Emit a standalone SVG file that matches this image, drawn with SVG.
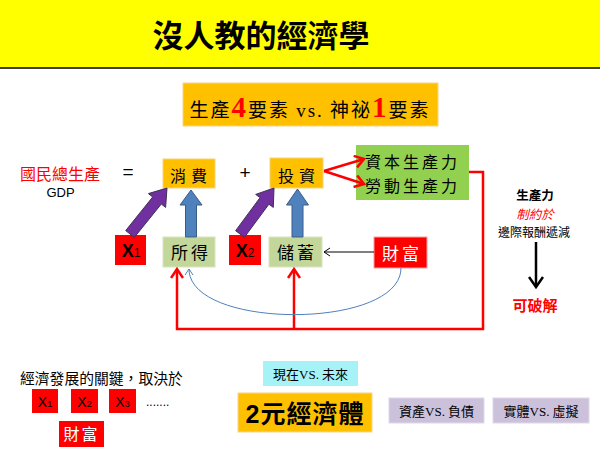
<svg xmlns="http://www.w3.org/2000/svg" width="600" height="449" viewBox="0 0 600 449">
<style>
.cjk{font-family:"Noto Sans CJK TC","Noto Sans CJK SC",sans-serif;}
.lat{font-family:"Liberation Sans",Arial,sans-serif;}
.orange{fill:#FFC000;stroke:#F7D27A;stroke-width:1;}
.olive{fill:#C4D79B;stroke:#D7E4BD;stroke-width:1;}
.redbox{fill:#FF0000;stroke:#F5A0A0;stroke-width:1;}
.lav{fill:#CCC1DA;stroke:#E0D8EA;stroke-width:1;}
.mid{text-anchor:middle;}
</style>
<defs>
<marker id="redHead" markerUnits="userSpaceOnUse" markerWidth="14" markerHeight="14" refX="10" refY="7" orient="auto">
<path d="M1,1 L10,7 L1,13" fill="none" stroke="#FF0000" stroke-width="2.5"/>
</marker>
<marker id="blackSmall" markerUnits="userSpaceOnUse" markerWidth="10" markerHeight="10" refX="8" refY="5" orient="auto">
<path d="M2,1 L8,5 L2,9" fill="none" stroke="#000" stroke-width="1"/>
</marker>
<marker id="blueSmall" markerUnits="userSpaceOnUse" markerWidth="10" markerHeight="10" refX="8" refY="5" orient="auto">
<path d="M2,1 L8,5 L2,9" fill="none" stroke="#4F81BD" stroke-width="1"/>
</marker>
<marker id="blackHead" markerUnits="userSpaceOnUse" markerWidth="16" markerHeight="16" refX="12" refY="8" orient="auto">
<path d="M2,1 L12,8 L2,15" fill="none" stroke="#000" stroke-width="2.5"/>
</marker>
</defs>

<g id="title">
<rect x="0" y="0" width="600" height="67" fill="#FFFF00"/>
<line x1="0" y1="68" x2="600" y2="68" stroke="#000" stroke-width="1.5"/>
<text x="261" y="47" class="cjk mid" font-size="31" font-weight="bold" fill="#000">沒人教的經濟學</text>
</g>

<g id="subtitle">
<rect x="183" y="83" width="255" height="43" fill="#FFC000" stroke="#F9D48A" stroke-width="1"/>
<text x="310" y="117" class="cjk mid" font-size="19" letter-spacing="2" fill="#000">生產<tspan fill="#FF0000" font-family="Liberation Serif" font-weight="bold" font-size="29">4</tspan>要素 <tspan font-family="Liberation Serif">vs.</tspan> 神祕<tspan fill="#FF0000" font-family="Liberation Serif" font-weight="bold" font-size="29">1</tspan>要素</text>
</g>

<g id="gdp">
<text x="60" y="180" class="cjk mid" font-size="16" fill="#FF0000">國民總生產</text>
<text x="60.5" y="197" class="lat mid" font-size="13" fill="#000">GDP</text>
</g>
<text x="128" y="178" class="lat mid" font-size="19" fill="#000">=</text>
<text x="245" y="179" class="lat mid" font-size="19" fill="#000">+</text>

<g id="consume">
<rect x="163" y="159" width="52" height="29" class="orange"/>
<text x="191" y="182" class="cjk mid" font-size="16" letter-spacing="5" fill="#000">消費</text>
</g>
<g id="invest">
<rect x="270" y="158" width="53" height="30" class="orange"/>
<text x="299" y="182" class="cjk mid" font-size="16" letter-spacing="5" fill="#000">投資</text>
</g>
<g id="productivity">
<rect x="356" y="145" width="113" height="55" fill="#92D050"/>
<text x="365" y="168" class="cjk" font-size="16" letter-spacing="3" fill="#000">資本生產力</text>
<text x="365" y="192" class="cjk" font-size="16" letter-spacing="3" fill="#000">勞動生產力</text>
</g>

<g id="x1">
<rect x="115" y="235" width="31" height="30" fill="#FF0000"/>
<text x="131" y="257" class="lat mid" fill="#000"><tspan font-size="18" font-weight="bold">X</tspan><tspan font-size="12">1</tspan></text>
</g>
<g id="income">
<rect x="163" y="237" width="52" height="30" class="olive"/>
<text x="191" y="259" class="cjk mid" font-size="17" letter-spacing="3" fill="#000">所得</text>
</g>
<g id="x2">
<rect x="229" y="235" width="32" height="30" fill="#FF0000"/>
<text x="245" y="257" class="lat mid" fill="#000"><tspan font-size="18" font-weight="bold">X</tspan><tspan font-size="12">2</tspan></text>
</g>
<g id="savings">
<rect x="269" y="237" width="53" height="30" class="olive"/>
<text x="297" y="259" class="cjk mid" font-size="17" letter-spacing="3" fill="#000">儲蓄</text>
</g>
<g id="wealth">
<rect x="374" y="237" width="53" height="31" class="redbox"/>
<text x="402" y="260" class="cjk mid" font-size="17" letter-spacing="3" fill="#FFFFFF">財富</text>
</g>

<g id="connectors">
<!-- purple block arrows -->
<polygon points="134.3,237.4 161.3,204.0 165.6,207.4 167,188 148.4,193.6 152.7,197.0 125.7,230.6" fill="#7030A0" stroke="#3F3151" stroke-width="1"/>
<polygon points="244.4,237.3 268.9,204.2 273.3,207.4 274,188 255.7,194.4 260.1,197.6 235.6,230.7" fill="#7030A0" stroke="#3F3151" stroke-width="1"/>
<!-- blue up arrows -->
<polygon points="185.5,237 185.5,205 180,205 191,190 202,205 196.5,205 196.5,237" fill="#4F81BD" stroke="#385D8A" stroke-width="1"/>
<polygon points="292,237 292,205 286.5,205 297.5,189 308.5,205 303,205 303,237" fill="#4F81BD" stroke="#385D8A" stroke-width="1"/>
<!-- red arrows from 投資 -->
<line x1="324" y1="171" x2="364" y2="159" stroke="#FF0000" stroke-width="2.5" marker-end="url(#redHead)"/>
<line x1="324" y1="171" x2="364" y2="184" stroke="#FF0000" stroke-width="2.5" marker-end="url(#redHead)"/>
<!-- red loop -->
<path d="M469,172 H483 V329 H177 V269" fill="none" stroke="#FF0000" stroke-width="2.5" marker-end="url(#redHead)"/>
<path d="M294,329 V269" fill="none" stroke="#FF0000" stroke-width="2.5" marker-end="url(#redHead)"/>
<!-- 財富 to 儲蓄 -->
<line x1="374" y1="252" x2="324" y2="252" stroke="#000" stroke-width="1" marker-end="url(#blackSmall)"/>
<!-- blue curve -->
<path d="M401,268 C401,330 189,330 189,269" fill="none" stroke="#4F81BD" stroke-width="1" marker-end="url(#blueSmall)"/>
<!-- right black arrow -->
<line x1="536" y1="242" x2="536" y2="287" stroke="#000" stroke-width="2.5" marker-end="url(#blackHead)"/>
</g>

<g id="note">
<text x="535" y="200" class="cjk mid" font-size="12.5" font-weight="bold" fill="#000">生產力</text>
<text x="535" y="219" class="cjk mid" font-size="12.5" font-style="italic" fill="#FF0000">制約於</text>
<text x="534" y="237" class="cjk mid" font-size="12" fill="#000">邊際報酬遞減</text>
<text x="535" y="311" class="cjk mid" font-size="15" font-weight="bold" fill="#FF0000">可破解</text>
</g>

<g id="keys">
<text x="20" y="384" class="cjk" font-size="14.8" fill="#000">經濟發展的關鍵，取決於</text>
<rect x="32" y="389" width="26" height="24" fill="#FF0000"/>
<text x="45" y="407" class="lat mid" fill="#000"><tspan font-size="14">X</tspan><tspan font-size="9">1</tspan></text>
<rect x="71" y="389" width="27" height="24" fill="#FF0000"/>
<text x="84.5" y="407" class="lat mid" fill="#000"><tspan font-size="14">X</tspan><tspan font-size="9">2</tspan></text>
<rect x="109" y="389" width="27" height="24" fill="#FF0000"/>
<text x="122.5" y="407" class="lat mid" fill="#000"><tspan font-size="14">X</tspan><tspan font-size="9">3</tspan></text>
<text x="146" y="406" class="lat" font-size="12" fill="#000">.......</text>
<rect x="59" y="421" width="45" height="26" fill="#FF0000"/>
<text x="81.5" y="440" class="cjk mid" font-size="16" letter-spacing="2" fill="#FFFFFF">財富</text>
</g>

<g id="nowfuture">
<rect x="263" y="361" width="95" height="25" fill="#A5F2F7"/>
<text x="310.5" y="379" class="cjk mid" font-size="13" fill="#000">現在<tspan font-family="Liberation Serif">VS.</tspan> 未來</text>
</g>
<g id="dual">
<rect x="238" y="393" width="134" height="39" fill="#FFC000" stroke="#F9D48A" stroke-width="1"/>
<text x="305" y="423" class="cjk mid" font-size="25" font-weight="bold" letter-spacing="1" fill="#000"><tspan class="lat">2</tspan>元經濟體</text>
</g>
<g id="assets">
<rect x="389" y="398" width="95" height="25" class="lav"/>
<text x="436.5" y="416" class="cjk mid" font-size="13" fill="#000">資產<tspan font-family="Liberation Serif">VS.</tspan> 負債</text>
</g>
<g id="realvirtual">
<rect x="493" y="398" width="96" height="25" class="lav"/>
<text x="541" y="416" class="cjk mid" font-size="13" fill="#000">實體<tspan font-family="Liberation Serif">VS.</tspan> 虛擬</text>
</g>
</svg>
